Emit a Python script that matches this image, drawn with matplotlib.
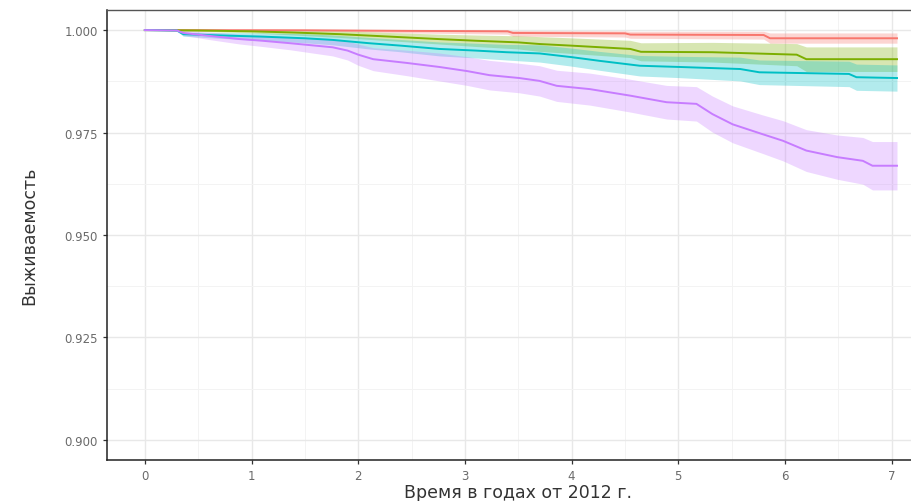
import matplotlib.pyplot as plt
import numpy as np

# Kaplan-Meier style survival estimates per group, with confidence bands
red_t = [0, 1.5, 2.5, 3.40, 3.45, 4.50, 4.55, 5.80, 5.86, 7.05]
red_s = [1.0, 0.99995, 0.9998, 0.9997, 0.9993, 0.9992, 0.9989, 0.9988, 0.9980, 0.9980]
red_lo = [1.0, 0.9999, 0.9993, 0.9990, 0.9985, 0.9983, 0.9980, 0.9978, 0.9968, 0.9968]
red_hi = [1.0, 1.0, 1.0, 1.0, 0.9999, 0.9998, 0.9997, 0.9997, 0.9993, 0.9993]

green_t = [0, 0.5, 1.0, 1.4, 1.83, 2.3, 2.76, 3.1, 3.5, 3.7, 4.0, 4.55, 4.65, 5.32,
           6.11, 6.2, 7.05]
green_s = [1.0, 0.9999, 0.9997, 0.9994, 0.9990, 0.9984, 0.9978, 0.9974, 0.9970, 0.9966,
           0.9962, 0.9954, 0.9947, 0.9946, 0.9940, 0.9929, 0.9929]
green_lo = [1.0, 0.9997, 0.9993, 0.9988, 0.9982, 0.9974, 0.9966, 0.9960, 0.9954, 0.9948,
            0.9943, 0.9933, 0.9925, 0.9922, 0.9913, 0.9899, 0.9899]
green_hi = [1.0, 1.0, 1.0, 1.0, 0.9998, 0.9994, 0.9990, 0.9988, 0.9986, 0.9984,
            0.9981, 0.9975, 0.9969, 0.9970, 0.9967, 0.9959, 0.9959]

cyan_t = [0, 0.3, 0.36, 0.7, 1.1, 1.5, 1.76, 2.1, 2.4, 2.76, 3.1, 3.39, 3.70, 4.0, 4.26,
          4.64, 5.01, 5.58, 5.76, 6.6, 6.67, 7.05]
cyan_s = [1.0, 0.9999, 0.9990, 0.9987, 0.9984, 0.9980, 0.9976, 0.9968, 0.9962, 0.9954,
          0.9950, 0.9946, 0.9943, 0.9934, 0.9925, 0.9913, 0.9910, 0.9905, 0.9897, 0.9893,
          0.9885, 0.9883]
cyan_lo = [1.0, 0.9998, 0.9985, 0.9980, 0.9975, 0.9969, 0.9964, 0.9954, 0.9947, 0.9937,
           0.9932, 0.9927, 0.9922, 0.9912, 0.9902, 0.9888, 0.9884, 0.9876, 0.9867, 0.9862,
           0.9853, 0.9851]
cyan_hi = [1.0, 1.0, 0.9995, 0.9994, 0.9993, 0.9991, 0.9988, 0.9982, 0.9977, 0.9971,
           0.9968, 0.9965, 0.9964, 0.9956, 0.9948, 0.9938, 0.9936, 0.9934, 0.9927, 0.9924,
           0.9917, 0.9915]

purple_t = [0, 0.3, 0.36, 0.6, 0.89, 1.1, 1.36, 1.6, 1.76, 1.9, 2.0, 2.14, 2.45, 2.76,
            3.02, 3.23, 3.51, 3.70, 3.86, 4.17, 4.55, 4.89, 5.17, 5.32, 5.51, 5.79, 5.98,
            6.20, 6.49, 6.73, 6.82, 7.05]
purple_s = [1.0, 0.9999, 0.9993, 0.9986, 0.9978, 0.9974, 0.9968, 0.9962, 0.9958, 0.9950,
            0.9940, 0.9929, 0.9920, 0.9910, 0.9900, 0.9890, 0.9883, 0.9876, 0.9864, 0.9856,
            0.9840, 0.9824, 0.9820, 0.9795, 0.9770, 0.9746, 0.9730, 0.9706, 0.9690, 0.9681,
            0.9669, 0.9669]
purple_lo = [1.0, 0.9998, 0.9987, 0.9977, 0.9966, 0.9960, 0.9952, 0.9943, 0.9937, 0.9927,
             0.9914, 0.9901, 0.9889, 0.9876, 0.9865, 0.9854, 0.9847, 0.9839, 0.9826, 0.9817,
             0.9800, 0.9783, 0.9778, 0.9751, 0.9725, 0.9699, 0.9681, 0.9655, 0.9636, 0.9624,
             0.9610, 0.9610]
purple_hi = [1.0, 1.0, 0.9999, 0.9995, 0.9990, 0.9988, 0.9984, 0.9981, 0.9979, 0.9973,
             0.9966, 0.9957, 0.9951, 0.9944, 0.9935, 0.9926, 0.9919, 0.9913, 0.9902, 0.9895,
             0.9880, 0.9865, 0.9862, 0.9839, 0.9815, 0.9793, 0.9779, 0.9757, 0.9744, 0.9738,
             0.9728, 0.9728]

groups = [
    (red_t, red_s, red_lo, red_hi, '#F8766D'),
    (green_t, green_s, green_lo, green_hi, '#7CAE00'),
    (cyan_t, cyan_s, cyan_lo, cyan_hi, '#00BFC4'),
    (purple_t, purple_s, purple_lo, purple_hi, '#C77CFF'),
]

plt.rcParams['font.family'] = ['DejaVu Sans']

fig = plt.figure(figsize=(9.11, 5.02), dpi=100)
# panel runs past the right edge of the figure
ax = fig.add_axes([107 / 911, 41 / 502, 822 / 911, 450 / 502])

ax.set_xlim(-0.355, 7.35)
ax.set_ylim(0.8951, 1.0049)

ax.set_xticks(np.arange(0, 8, 1))
ax.set_xticks(np.arange(0.5, 7.5, 1), minor=True)
ax.set_yticks([0.900, 0.925, 0.950, 0.975, 1.000])
ax.set_yticks([0.9125, 0.9375, 0.9625, 0.9875], minor=True)
ax.set_yticklabels(['0.900', '0.925', '0.950', '0.975', '1.000'])

ax.grid(which='major', color='#e8e8e8', linewidth=1.0)
ax.grid(which='minor', color='#f3f3f3', linewidth=0.7)
ax.set_axisbelow(True)

# many small event steps, drawn as a continuous trace
for t, s, lo, hi, col in groups:
    ax.fill_between(t, lo, hi, color=col, alpha=0.3, linewidth=0)
for t, s, lo, hi, col in groups:
    ax.plot(t, s, color=col, linewidth=1.4)

ax.tick_params(which='minor', length=0)
ax.tick_params(which='major', length=3, width=0.9, color='#333333',
               labelsize=8.5, labelcolor='#6a6a6a')
for side in ['left', 'bottom']:
    ax.spines[side].set_color('#222222')
    ax.spines[side].set_linewidth(1.1)
ax.spines['top'].set_color('#555555')
ax.spines['top'].set_linewidth(1.0)
ax.spines['right'].set_visible(False)

ax.set_xlabel('Время в годах от 2012 г.', fontsize=12.5, color='#333333', labelpad=1)
ax.set_ylabel('Выживаемость', fontsize=12.5, color='#333333', labelpad=19)

fig.savefig('out.png', dpi=100)
